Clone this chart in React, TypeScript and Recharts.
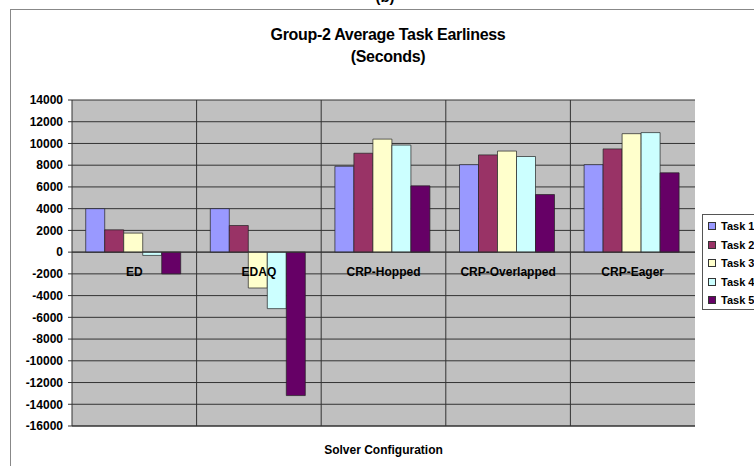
import React from 'react';
import { BarChart, Bar, XAxis, YAxis, CartesianGrid, ReferenceLine } from 'recharts';

const categories = ['ED', 'EDAQ', 'CRP-Hopped', 'CRP-Overlapped', 'CRP-Eager'];
const seriesNames = ['Task 1', 'Task 2', 'Task 3', 'Task 4', 'Task 5'];
const task1 = [4000, 4000, 7900, 8050, 8050];
const task2 = [2050, 2450, 9100, 8950, 9500];
const task3 = [1750, -3300, 10400, 9300, 10900];
const task4 = [-300, -5200, 9850, 8800, 11000];
const task5 = [-2000, -13200, 6100, 5300, 7300];
const yTicks = [-16000, -14000, -12000, -10000, -8000, -6000, -4000, -2000, 0, 2000, 4000, 6000, 8000, 10000, 12000, 14000];

const COLORS = ['#9999ff', '#993366', '#ffffcc', '#ccffff', '#660066'];
const FONT = "'Liberation Sans', Arial, sans-serif";

const allSeries = [task1, task2, task3, task4, task5];
const data = categories.map((name, i) => {
  const row: Record<string, string | number> = { name };
  seriesNames.forEach((s, k) => {
    row[s] = allSeries[k][i];
  });
  return row;
});

// category names sit just under the zero line, like Excel's crossing axis
function CategoryLabels(props: any) {
  const vb = props.viewBox || {};
  const step = vb.width / categories.length;
  return (
    <g>
      {categories.map((c, i) => (
        <text
          key={c}
          x={vb.x + step * (i + 0.5)}
          y={vb.y + 24}
          textAnchor="middle"
          fontSize={12}
          fontWeight="bold"
          fontFamily={FONT}
          fill="#000"
        >
          {c}
        </text>
      ))}
    </g>
  );
}

export default function App() {
  return (
    <div style={{ position: 'absolute', left: 0, top: 0, width: 754, height: 466, overflow: 'hidden', background: '#fff', fontFamily: FONT }}>
      <div style={{ position: 'absolute', left: 10, top: 9, width: 800, height: 500, border: '1px solid #888' }} />
      <div style={{ position: 'absolute', left: 0, top: -12, width: 770, textAlign: 'center', fontSize: 15, fontWeight: 'bold' }}>(b)</div>
      <div style={{ position: 'absolute', left: 0, top: 24, width: 776, textAlign: 'center', fontSize: 16, fontWeight: 'bold', lineHeight: '22px', letterSpacing: -0.3 }}>
        Group-2 Average Task Earliness
        <br />
        (Seconds)
      </div>
      <BarChart
        width={754}
        height={466}
        data={data}
        margin={{ top: 100, right: 59, bottom: 0, left: 12 }}
        barCategoryGap="11%"
        barGap={0}
      >
        <CartesianGrid
          fill="#c0c0c0"
          fillOpacity={1}
          stroke="#333"
          strokeWidth={1}
          verticalCoordinatesGenerator={({ offset }: any) =>
            [1, 2, 3, 4].map((i) => offset.left + (offset.width * i) / categories.length)
          }
        />
        <XAxis
          dataKey="name"
          height={40}
          tick={false}
          tickLine={false}
          axisLine={{ stroke: '#333' }}
          label={{ value: 'Solver Configuration', position: 'insideBottom', offset: 12, fontSize: 12, fontWeight: 'bold', fill: '#000', fontFamily: FONT }}
        />
        <YAxis
          width={60}
          domain={[-16000, 14000]}
          ticks={yTicks}
          interval={0}
          tickSize={4}
          tickMargin={5}
          tickLine={{ stroke: '#333' }}
          axisLine={{ stroke: '#333' }}
          tick={{ fontSize: 12, fontWeight: 'bold', fill: '#000', fontFamily: FONT }}
        />
        {seriesNames.map((s, k) => (
          <Bar key={s} dataKey={s} fill={COLORS[k]} stroke="#222" strokeWidth={0.7} isAnimationActive={false} />
        ))}
        <ReferenceLine y={0} stroke="#333" label={<CategoryLabels />} />
      </BarChart>
      <div style={{ position: 'absolute', left: 702, top: 214, width: 100, height: 94, border: '1px solid #555', background: '#fff' }}>
        {seriesNames.map((s, k) => (
          <div key={s} style={{ position: 'absolute', left: 5, top: 4 + k * 18.5, height: 14, display: 'flex', alignItems: 'center', fontSize: 11, fontWeight: 'bold' }}>
            <span style={{ width: 6, height: 6, background: COLORS[k], border: '1px solid #333', marginRight: 5 }} />
            {s}
          </div>
        ))}
      </div>
    </div>
  );
}
